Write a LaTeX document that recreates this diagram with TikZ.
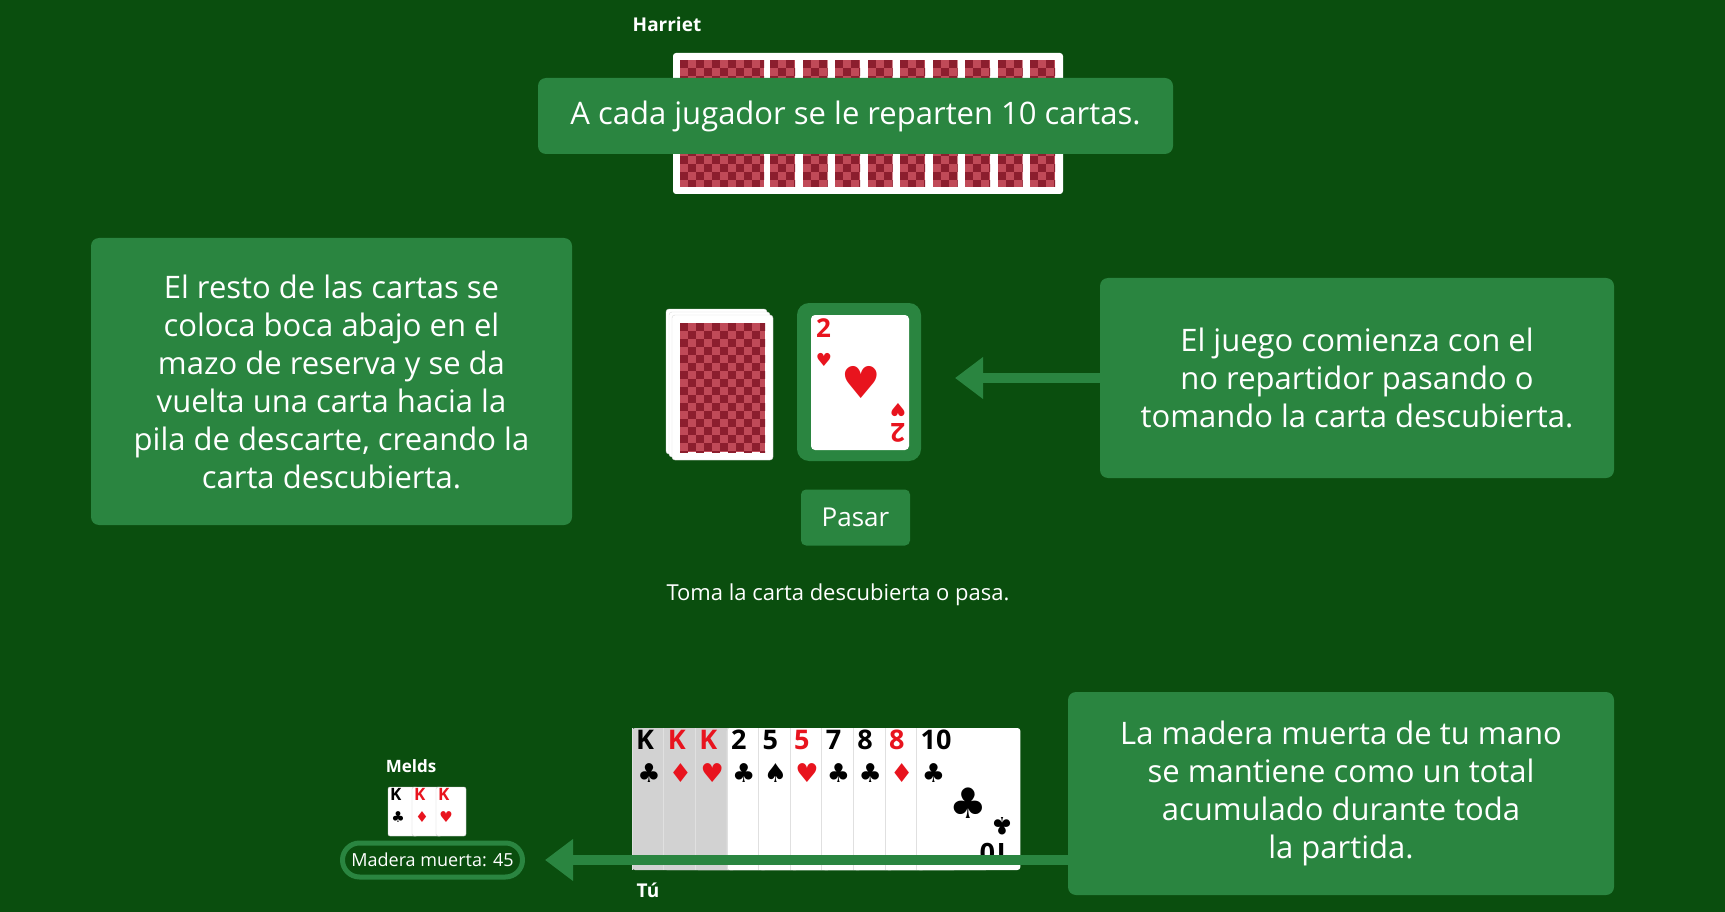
\documentclass[tikz,border=0pt]{standalone}
\usepackage{fontspec}
\setmainfont{Open Sans}
\newfontfamily\symfont{DejaVu Sans}
\usetikzlibrary{positioning,arrows.meta}
\definecolor{felt}{HTML}{0A4E0E}
\definecolor{tipgreen}{HTML}{2A8540}
\definecolor{backred}{HTML}{C04A58}
\definecolor{backdark}{HTML}{8C1E2E}
\definecolor{suitred}{HTML}{E8141E}
\definecolor{cardgray}{HTML}{D2D2D2}
\tikzset{
  tipbox/.style={fill=tipgreen,rounded corners=8pt,text=white,align=center,
    font=\fontsize{31}{38}\selectfont},
  cardface/.style={fill=white,draw=black!15,rounded corners=3pt},
  lbl/.style={text=white,font=\bfseries\fontsize{19}{22}\selectfont},
  rank/.style={anchor=north west,inner sep=0pt,font=\bfseries\fontsize{27}{27}\selectfont}
}
% checkered card back between two corners
\newcommand{\checkback}[4]{%
  \begin{scope}
    \clip (#1,#2) rectangle (#3,#4);
    \fill[backred] (#1,#2) rectangle (#3,#4);
    \foreach \cx in {0,8,...,96}
      \foreach \cy in {0,16,...,136}{
        \fill[backdark] ({#1+\cx},{#2+\cy+mod(\cx,16)}) rectangle ++(8,8);
      }
  \end{scope}}
\begin{document}
\begin{tikzpicture}[x=1pt,y=-1pt]
  \fill[felt] (0,0) rectangle (1725,912);
  \useasboundingbox (0,0) rectangle (1725,912);
  % Harriet
  \node[lbl] (harriet) at (667,24) {Harriet};
  \fill[white,rounded corners=3pt] (673,53) rectangle (1063,194);
  \checkback{680}{60}{764}{187}
  \foreach \i in {0,...,8}{
    \checkback{770+32.5*\i}{60}{795+32.5*\i}{187}
  }
  \node[tipbox,minimum width=635pt,minimum height=76pt] (deal) at (855.5,116) {A cada jugador se le reparten 10 cartas.};
  % stock
  \foreach \d in {0,3,6}
    \draw[cardface] ({666+\d},{309+\d}) rectangle ({767+\d},{454+\d});
  \checkback{680}{323}{765}{452}
  % discard
  \fill[tipgreen,rounded corners=12pt] (797,303) rectangle (921,461);
  \fill[white,rounded corners=4pt] (811,315) rectangle (909,450);
  \node[rank,text=suitred,font=\bfseries\fontsize{26}{26}\selectfont] (two) at (816,318) {2};
  \node[inner sep=0pt,text=suitred,font=\symfont\fontsize{18}{18}\selectfont] at (824,360) {♥};
  \node[inner sep=0pt,text=suitred,font=\symfont\fontsize{44}{44}\selectfont] (bigheart) at (861,382) {♥};
  \node[inner sep=0pt,text=suitred,rotate=180,font=\symfont\fontsize{18}{18}\selectfont] at (898,410) {♥};
  \node[inner sep=0pt,text=suitred,rotate=180,font=\bfseries\fontsize{26}{26}\selectfont] at (898,433) {2};
  \node[fill=tipgreen,rounded corners=5pt,text=white,minimum width=109pt,minimum height=56pt,
    font=\fontsize{26}{26}\selectfont] (pass) at (855.5,517.5) {Pasar};
  \node[text=white,font=\fontsize{22}{22}\selectfont] (prompt) at (838,595) {Toma la carta descubierta o pasa.};
  % left and right tips
  \node[tipbox,minimum width=481pt,minimum height=287pt] (rest) at (331.5,381.5)
    {El resto de las cartas se\\coloca boca abajo en el\\mazo de reserva y se da\\vuelta una carta hacia la\\pila de descarte, creando la\\carta descubierta.};
  \node[tipbox,minimum width=514pt,minimum height=200pt] (start) at (1357,378)
    {El juego comienza con el\\no repartidor pasando o\\tomando la carta descubierta.};
  \coordinate (upcard) at (955,378);
  \draw[tipgreen,line width=10pt,-{Triangle[length=28pt,width=40pt]}] (start.west) -- (upcard);
  % your hand
  \foreach \r/\s/\c [count=\i from 0] in {K/♣/black,K/♦/suitred,K/♥/suitred,2/♣/black,5/♠/black,5/♥/suitred,7/♣/black,8/♣/black,8/♦/suitred,10/♣/black}{
    \ifnum\i<3
      \fill[cardgray,rounded corners=3pt] ({632+31.6*\i},728) rectangle ({736+31.6*\i},870);
    \else
      \fill[white,rounded corners=3pt] ({632+31.6*\i},728) rectangle ({736+31.6*\i},870);
    \fi
    \draw[black!12] ({632+31.6*\i},728) -- ({632+31.6*\i},870);
    \node[rank,text=\c] at ({636+31.6*\i},730) {\r};
    \node[inner sep=0pt,text=\c,font=\symfont\fontsize{26}{26}\selectfont] at ({649+31.6*\i},773) {\s};
  }
  \node[inner sep=0pt,font=\symfont\fontsize{42}{42}\selectfont] (bigclub) at (968,803) {♣};
  \node[inner sep=0pt,rotate=180,font=\symfont\fontsize{24}{24}\selectfont] at (1002,826) {♣};
  \node[inner sep=0pt,rotate=180,font=\bfseries\fontsize{27}{27}\selectfont] at (995,853) {10};
  \node[lbl] (you) at (648,890) {Tú};
  % melds
  \node[lbl,font=\bfseries\fontsize{17}{20}\selectfont] (melds) at (411,766) {Melds};
  \foreach \r/\s/\c [count=\i from 0] in {K/♣/black,K/♦/suitred,K/♥/suitred}{
    \draw[fill=white,draw=black!20,rounded corners=2pt] ({388+24*\i},787) rectangle ({418+24*\i},836);
    \node[rank,text=\c,font=\bfseries\fontsize{17}{17}\selectfont] at ({390+24*\i},788) {\r};
    \node[inner sep=0pt,text=\c,font=\symfont\fontsize{15}{15}\selectfont] at ({398+24*\i},817) {\s};
  }
  \node[draw=tipgreen,line width=5pt,fill=felt,rounded corners=17pt,text=white,
    minimum width=180pt,minimum height=34pt,font=\fontsize{18}{18}\selectfont] (dead) at (432.5,860) {Madera muerta: 45};
  \node[tipbox,minimum width=546pt,minimum height=203pt] (total) at (1341,793.5)
    {La madera muerta de tu mano\\se mantiene como un total\\acumulado durante toda\\la partida.};
  \draw[tipgreen,line width=10pt,-{Triangle[length=28pt,width=40pt]}] (total.west |- dead) -- ([xshift=20pt]dead.east);
\end{tikzpicture}
\end{document}
